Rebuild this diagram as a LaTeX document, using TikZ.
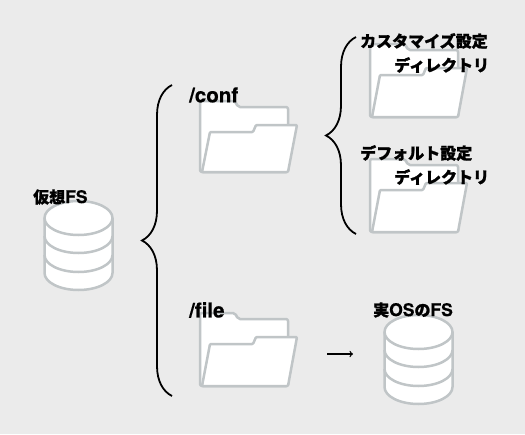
\documentclass[tikz,border=0pt]{standalone}
\usepackage{fontspec}
\setmainfont{Noto Sans CJK JP}[BoldFeatures={FakeBold=1.2}]
\setsansfont{TeX Gyre Heros}[BoldFeatures={FakeBold=0.6}]
\usetikzlibrary{decorations.pathreplacing}
\definecolor{paper}{HTML}{EBEBEB}
\definecolor{edge}{HTML}{C0C5C7}
\newcommand{\lat}[2][17.5]{{\sffamily\fontsize{#1}{16}\selectfont #2}}
\tikzset{
  x=1pt,y=-1pt,
  label/.style={inner sep=0pt,anchor=west,font=\fontsize{16}{16}\selectfont\bfseries},
  part/.style={draw=edge,fill=white,line width=2.5pt,line join=round},
  bigbrace/.style={draw=black,line width=1.8pt,decorate,decoration={brace,amplitude=30pt,mirror}},
  pics/folder/.style={code={
    \path[part,rounded corners=2pt] (0,-6) -- (35,-6) -- (38,0) -- (88,0) -- (88,#1) -- (0,#1) -- cycle;
    \path[part,rounded corners=1pt] (10,25) -- (53,25) -- (56,18) -- (97,18) -- (88,#1) -- (2,#1) -- cycle;
  }},
  pics/disk/.style={code={
    \path[part] (-34,0) -- (-34,55) arc[start angle=180,end angle=360,x radius=34,y radius=-17] -- (34,0) -- cycle;
    \path[part] (0,0) ellipse[x radius=34,y radius=17];
    \draw[edge,line width=2.5pt] (-34,18) arc[start angle=180,end angle=360,x radius=34,y radius=-17];
    \draw[edge,line width=2.5pt] (-34,37) arc[start angle=180,end angle=360,x radius=34,y radius=-17];
  }},
}
\begin{document}
\begin{tikzpicture}
\fill[paper] (0,0) rectangle (525,434);
\useasboundingbox (0,0) rectangle (525,434);
% disks and folders
\pic at (78.5,218) {disk};
\pic at (418.5,332) {disk};
\pic at (200,107) {folder=65};
\pic at (200,319) {folder=67};
\pic at (370,50) {folder=67};
\pic at (370,165) {folder=67};
% braces
\coordinate (top1) at (172,85);
\coordinate (bot1) at (172,396);
\coordinate (top2) at (356,37);
\coordinate (bot2) at (356,234);
\draw[bigbrace] (top1) -- (bot1);
\draw[bigbrace] (top2) -- (bot2);
% labels
\node[label] (vfs) at (33,197) {仮想\lat{FS}};
\node[label] (conf) at (189,95) {\lat[20.5]{/conf}};
\node[label] (custom) at (360,41) {カスタマイズ設定};
\node[label] (customdir) at (394,65) {ディレクトリ};
\node[label] (default) at (360,153) {デフォルト設定};
\node[label] (defaultdir) at (394,177) {ディレクトリ};
\node[label] (file) at (189,310) {\lat[20.5]{/file}};
\node[label] (realfs) at (373,310) {実\lat{OS}の\lat{FS}};
% arrow
\coordinate (from) at (327,354);
\coordinate (to) at (353,354);
\draw[->,line width=1.3pt] (from) -- (to);
\end{tikzpicture}
\end{document}
